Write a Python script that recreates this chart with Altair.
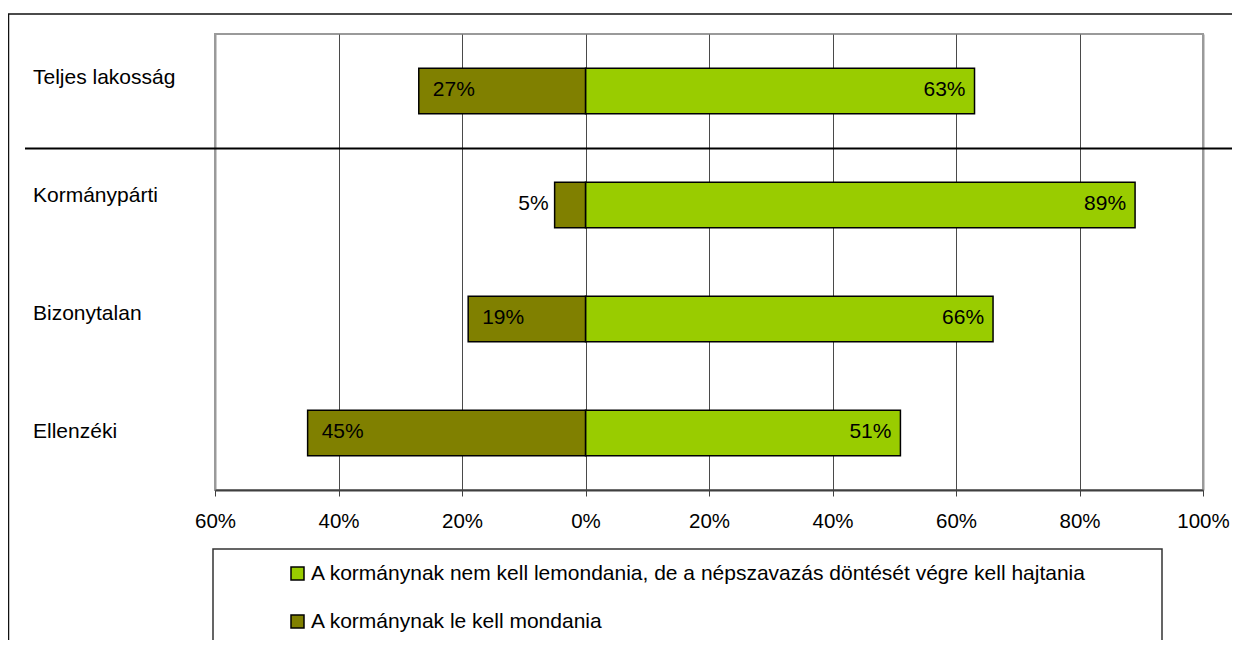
import altair as alt
import pandas as pd

# ---- data ----
categories = ["Teljes lakosság", "Kormánypárti", "Bizonytalan", "Ellenzéki"]
series_names = [
    "A kormánynak nem kell lemondania, de a népszavazás döntését végre kell hajtania",
    "A kormánynak le kell mondania",
]
nem_kell_lemondani = [63, 89, 66, 51]   # green, drawn to the right
le_kell_mondani = [27, 5, 19, 45]       # olive, drawn to the left
series_colors = ["#99CC00", "#808000"]
x_ticks = [-60, -40, -20, 0, 20, 40, 60, 80, 100]

rows = []
for c, g, o in zip(categories, nem_kell_lemondani, le_kell_mondani):
    rows.append({"cat": c, "series": series_names[0], "pct": g, "side": 1})
    rows.append({"cat": c, "series": series_names[1], "pct": o, "side": -1})
df = pd.DataFrame(rows)
cat_df = pd.DataFrame({"cat": categories})
dummy = pd.DataFrame({"d": [0]})

FONT = "Liberation Sans"
FS = 21

grid_color = alt.condition("datum.value == -60 || datum.value == 100",
                           alt.value("#9a9a9a"), alt.value("#4a4a4a"))
grid_width = alt.condition("datum.value == -60 || datum.value == 100",
                           alt.value(2), alt.value(1))

x_enc = alt.X(
    "val:Q",
    scale=alt.Scale(domain=[-60, 100], nice=False),
    stack=None,
    axis=alt.Axis(values=x_ticks, labelExpr="abs(datum.value) + '%'", title=None,
                  grid=True, gridColor=grid_color, gridWidth=grid_width,
                  labelFlush=False, labelOverlap=False),
)
y_band = alt.Y("cat:N", sort=categories, axis=None,
               scale=alt.Scale(type="band", domain=categories,
                               paddingInner=0.6, paddingOuter=0.3))

base = alt.Chart(df).transform_calculate(
    val="datum.pct * datum.side", label="datum.pct + '%'"
)

bars = base.mark_bar(stroke="black", strokeWidth=1.5).encode(
    x=x_enc,
    y=y_band,
    color=alt.Color(
        "series:N",
        scale=alt.Scale(domain=series_names, range=series_colors),
        legend=alt.Legend(
            orient="none", legendX=72, legendY=529, title=None,
            symbolType="square", symbolSize=169, symbolStrokeColor="black",
            symbolStrokeWidth=1.5, symbolOpacity=1,
            labelFont=FONT, labelFontSize=FS, labelColor="black",
            labelLimit=2000, labelOffset=3, rowPadding=26, padding=0,
        ),
    ),
)

txt_kw = dict(font=FONT, fontSize=FS, color="black", baseline="middle", dy=-1)
lbl_green = base.transform_filter("datum.side == 1").mark_text(
    align="right", dx=-9, **txt_kw
).encode(x=alt.X("val:Q"), y=y_band, text="label:N")
lbl_olive = base.transform_filter("datum.side == -1 && datum.pct >= 10").mark_text(
    align="left", dx=14, **txt_kw
).encode(x=alt.X("val:Q"), y=y_band, text="label:N")
lbl_small = base.transform_filter("datum.side == -1 && datum.pct < 10").mark_text(
    align="right", dx=-6, **txt_kw
).encode(x=alt.X("val:Q"), y=y_band, text="label:N")

cat_labels = alt.Chart(cat_df).mark_text(
    align="left", baseline="middle", font=FONT, fontSize=FS, color="black"
).encode(
    y=alt.Y("cat:N", sort=categories, axis=None,
            scale=alt.Scale(type="point", domain=categories, padding=0.432, align=0.431)),
    x=alt.value(-182),
    text="cat:N",
)

separator = alt.Chart(dummy).mark_rule(color="black", strokeWidth=2).encode(
    x=alt.value(-190), x2=alt.value(1100), y=alt.value(114.5)
)
legend_box = alt.Chart(dummy).mark_rect(
    fillOpacity=0, stroke="#333333", strokeWidth=1.5
).encode(x=alt.value(-2), x2=alt.value(947), y=alt.value(515), y2=alt.value(700))
outer_box = alt.Chart(dummy).mark_rect(
    fillOpacity=0, stroke="#111111", strokeWidth=1.5
).encode(x=alt.value(-206.5), x2=alt.value(1100), y=alt.value(-20), y2=alt.value(700))

chart = (
    alt.layer(outer_box, legend_box, bars, lbl_green, lbl_olive, lbl_small,
              cat_labels, separator)
    .resolve_scale(y="independent")
    .properties(
        width=988, height=456,
        autosize=alt.AutoSizeParams(type="none"),
        padding={"left": 207, "top": 26, "right": 29, "bottom": 150},
        background="white",
    )
    .configure_view(stroke="#9a9a9a", strokeWidth=2)
    .configure_axis(
        domainColor="#404040", domainWidth=2,
        tickColor="#404040", tickWidth=1, tickSize=6,
        labelFont=FONT, labelFontSize=20.5, labelColor="black", labelPadding=15,
    )
)

chart.save("out.html", embed_options={"renderer": "svg", "actions": False})
